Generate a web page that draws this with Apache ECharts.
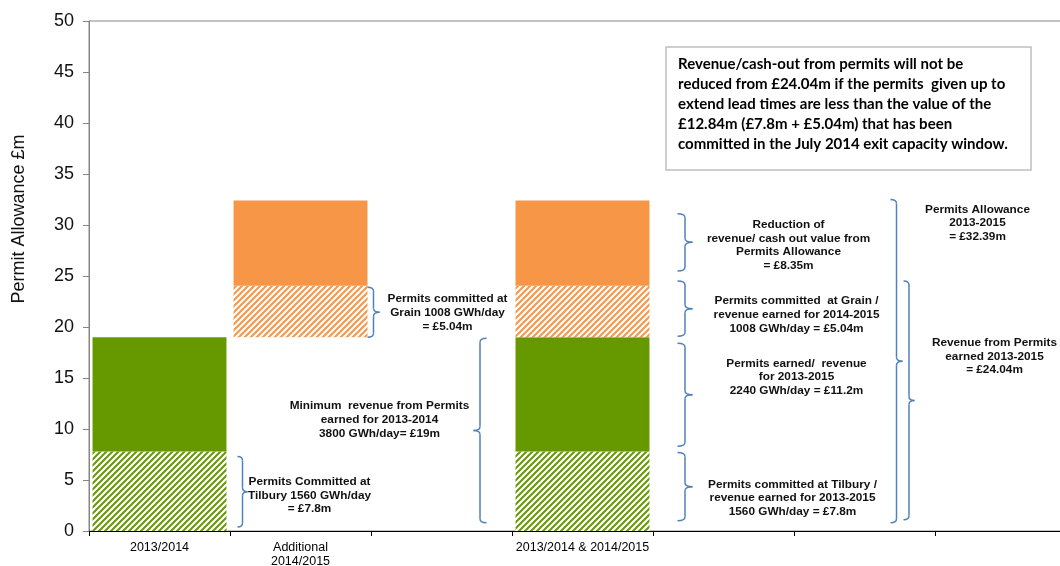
<!DOCTYPE html>
<html>
<head>
<meta charset="utf-8">
<script src="https://cdn.jsdelivr.net/npm/echarts@6/dist/echarts.min.js"></script>
<style>
  html, body { margin: 0; padding: 0; background: #fff; }
  #main { width: 1060px; height: 566px; }
</style>
</head>
<body>
<div id="main"></div>
<script>
// categories on the x axis
var categories = ['2013/2014', 'Additional\n2014/2015', '', '2013/2014 & 2014/2015', '', '', ''];

// stacked segments (£m)
var tilburyCommitted = [7.8, null, null, 7.8, null, null, null];
var earned2013 = [11.2, null, null, 11.2, null, null, null];
var baseOffset = [null, 19, null, null, null, null, null];
var grainCommitted = [null, 5.04, null, 5.04, null, null, null];
var reduction = [null, 8.35, null, 8.35, null, null, null];

// y axis
var yMin = 0, yMax = 50, yStep = 5;

// brace annotations: value range on the y axis and label
var braceRanges = [
    [0.4, 7.3], [19.0, 23.9], [0.8, 18.9],
    [25.5, 31.1], [19.1, 24.5], [8.3, 18.4], [1.0, 7.7],
    [0.8, 32.5], [1.1, 24.5]
];
var braceLabels = [
    'Permits Committed at\nTilbury 1560 GWh/day\n= £7.8m',
    'Permits committed at\nGrain 1008 GWh/day\n= £5.04m',
    'Minimum  revenue from Permits\nearned for 2013-2014\n3800 GWh/day= £19m',
    'Reduction of\nrevenue/ cash out value from\nPermits Allowance\n= £8.35m',
    'Permits committed  at Grain /\nrevenue earned for 2014-2015\n1008 GWh/day = £5.04m',
    'Permits earned/  revenue\nfor 2013-2015\n2240 GWh/day = £11.2m',
    'Permits committed at Tilbury /\nrevenue earned for 2013-2015\n1560 GWh/day = £7.8m',
    'Permits Allowance\n2013-2015\n= £32.39m',
    'Revenue from Permits\nearned 2013-2015\n= £24.04m'
];
var noteText = 'Revenue/cash-out from permits will not be\nreduced from £24.04m if the permits  given up to\nextend lead times are less than the value of the\n£12.84m (£7.8m + £5.04m) that has been\ncommitted in the July 2014 exit capacity window.';

// layout of braces: category, x offsets (px from category centre), direction, label offset / label y value
var braceLayout = [
    { cat: 0, x0: 78, x1: 88, dir: 1, tx: 150, ty: 3.5 },
    { cat: 1, x0: 67, x1: 79, dir: 1, tx: 147, ty: 21.4 },
    { cat: 2, x0: 32, x1: 45, dir: -1, tx: -62, ty: 10.9 },
    { cat: 3, x0: 95, x1: 110, dir: 1, tx: 206, ty: 28.0 },
    { cat: 3, x0: 95, x1: 110, dir: 1, tx: 214, ty: 21.2 },
    { cat: 3, x0: 95, x1: 110, dir: 1, tx: 214, ty: 15.1 },
    { cat: 3, x0: 95, x1: 110, dir: 1, tx: 210, ty: 3.25 },
    { cat: 5, x0: 26, x1: 38, dir: 1, tx: 113, ty: 30.2 },
    { cat: 5, x0: 39, x1: 50, dir: 1, tx: 130, ty: 17.1 }
];

var GREEN = '#669900', ORANGE = '#F79646', BLUE = '#4F81BD';
var FONT = '"Liberation Sans", Arial, sans-serif';

function hatch(color) {
    var c = document.createElement('canvas');
    c.width = c.height = 6;
    var g = c.getContext('2d');
    g.fillStyle = '#fff';
    g.fillRect(0, 0, 6, 6);
    g.strokeStyle = color;
    g.lineWidth = 2;
    g.beginPath();
    g.moveTo(0, 6); g.lineTo(6, 0);
    g.moveTo(-3, 3); g.lineTo(3, -3);
    g.moveTo(3, 9); g.lineTo(9, 3);
    g.stroke();
    return { image: c, repeat: 'repeat' };
}

var braceData = braceRanges.map(function (r, i) {
    return [braceLayout[i].cat, r[0], r[1], i];
});

function renderBrace(params, api) {
    var i = api.value(3);
    var L = braceLayout[i];
    var c0 = api.coord([L.cat, api.value(1)]);
    var c1 = api.coord([L.cat, api.value(2)]);
    var cx = c0[0];
    var bot = c0[1], top = c1[1], mid = (top + bot) / 2;
    var e = cx + (L.dir > 0 ? L.x0 : L.x1);
    var t = cx + (L.dir > 0 ? L.x1 : L.x0);
    var v = (e + t) / 2;
    var r = 4;
    var st = { stroke: BLUE, lineWidth: 1.5, fill: null };
    var lbl = api.coord([L.cat, L.ty]);
    return {
        type: 'group',
        children: [
            { type: 'bezierCurve', shape: { x1: e, y1: top, cpx1: v, cpy1: top, x2: v, y2: top + r }, style: st },
            { type: 'line', shape: { x1: v, y1: top + r, x2: v, y2: mid - r }, style: st },
            { type: 'bezierCurve', shape: { x1: v, y1: mid - r, cpx1: v, cpy1: mid, x2: t, y2: mid }, style: st },
            { type: 'bezierCurve', shape: { x1: t, y1: mid, cpx1: v, cpy1: mid, x2: v, y2: mid + r }, style: st },
            { type: 'line', shape: { x1: v, y1: mid + r, x2: v, y2: bot - r }, style: st },
            { type: 'bezierCurve', shape: { x1: v, y1: bot - r, cpx1: v, cpy1: bot, x2: e, y2: bot }, style: st },
            {
                type: 'text',
                style: {
                    text: braceLabels[i], x: cx + L.tx, y: lbl[1],
                    align: 'center', verticalAlign: 'middle',
                    fontSize: 11.8, fontWeight: 'bold', fontFamily: FONT,
                    lineHeight: 13.6, fill: '#111'
                }
            }
        ]
    };
}

var myChart = echarts.init(document.getElementById('main'));

var option = {
    animation: false,
    grid: {
        left: 89, top: 21, width: 987, bottom: 35,
        outerBoundsMode: 'none', containLabel: false,
        show: true, borderColor: '#868686', borderWidth: 1
    },
    xAxis: {
        type: 'category',
        data: categories,
        axisLine: { lineStyle: { color: '#000', width: 1 } },
        axisTick: { show: true, interval: 0, length: 5, lineStyle: { color: '#000' } },
        axisLabel: {
            interval: 0, margin: 9, color: '#000',
            fontSize: 12.5, fontFamily: FONT, lineHeight: 14.5
        }
    },
    yAxis: {
        type: 'value',
        min: yMin, max: yMax, interval: yStep,
        axisLine: { show: true, lineStyle: { color: '#868686' } },
        axisTick: { show: true, length: 6, lineStyle: { color: '#868686' } },
        splitLine: { show: false },
        axisLabel: { margin: 15, color: '#111', fontSize: 18, fontFamily: FONT }
    },
    series: [
        { type: 'bar', stack: 'p', data: tilburyCommitted, barCategoryGap: '5%', itemStyle: { color: hatch(GREEN) } },
        { type: 'bar', stack: 'p', data: earned2013, itemStyle: { color: GREEN } },
        { type: 'bar', stack: 'p', data: baseOffset, itemStyle: { color: 'transparent' } },
        { type: 'bar', stack: 'p', data: grainCommitted, itemStyle: { color: hatch(ORANGE) } },
        { type: 'bar', stack: 'p', data: reduction, itemStyle: { color: ORANGE } },
        { type: 'custom', data: braceData, renderItem: renderBrace, clip: false, z: 5 }
    ],
    graphic: [
        {
            type: 'text', x: 19, y: 219, rotation: Math.PI / 2,
            style: {
                text: 'Permit Allowance £m', align: 'center', verticalAlign: 'middle',
                fontSize: 18, fontFamily: FONT, fill: '#111'
            }
        },
        {
            type: 'rect', shape: { x: 666, y: 47, width: 365, height: 123 },
            style: { fill: '#fff', stroke: '#BFBFBF', lineWidth: 1.5 }, z: 10
        },
        {
            type: 'text', x: 678, y: 54, z: 11,
            style: {
                text: noteText, fontSize: 15, fontWeight: 'bold', fontFamily: 'Lato, sans-serif',
                lineHeight: 20, fill: '#000'
            }
        }
    ]
};

myChart.setOption(option);
</script>
</body>
</html>
